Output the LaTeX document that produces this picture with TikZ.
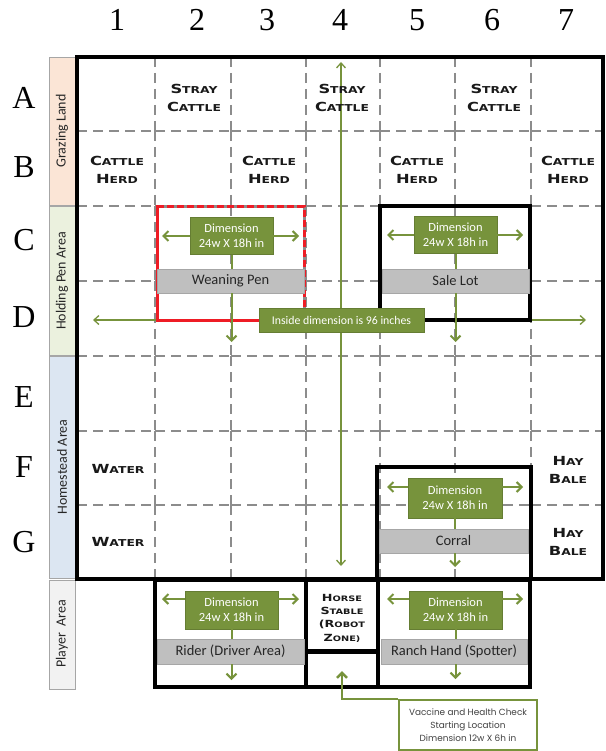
\documentclass[tikz,border=0pt]{standalone}
\usepackage{fontspec}
\usepackage{graphicx}
\setmainfont{Liberation Serif}
\newfontfamily\calib{Carlito}
\newfontfamily\cpfont{DejaVu Sans}
\newfontfamily\vacfont{Poppins}
\usetikzlibrary{arrows.meta}
\definecolor{grn}{HTML}{77933C}
\definecolor{lblgray}{HTML}{BFBFBF}
\definecolor{lbledge}{HTML}{A6A6A6}
\definecolor{gridgray}{HTML}{8C8C8C}
\definecolor{penred}{HTML}{EE1C25}
\definecolor{sidepeach}{HTML}{FBE5D6}
\definecolor{sidegreen}{HTML}{EBF1DE}
\definecolor{sideblue}{HTML}{DCE6F2}
\definecolor{sidegray}{HTML}{F2F2F2}
\definecolor{vactext}{HTML}{404040}
\newcommand\cpw[2]{\scalebox{1.3}[1]{{\fontsize{12.5}{12.5}\selectfont #1}{\fontsize{9.5}{9.5}\selectfont #2}}}
\newcommand\cpws[2]{\scalebox{1.3}[1]{{\fontsize{9.8}{9.8}\selectfont #1}{\fontsize{7.5}{7.5}\selectfont #2}}}
\tikzset{
  gridline/.style={draw=gridgray, line width=2pt, dash pattern=on 10pt off 6pt},
  frame/.style={draw=black, line width=4pt},
  penbox/.style={draw=black, line width=4pt},
  sidebar/.style={draw=lbledge, line width=0.8pt},
  sidetext/.style={rotate=90, font=\calib\fontsize{14}{14}\selectfont, text=black!85, inner sep=0pt},
  rowlab/.style={font=\fontsize{32}{32}\selectfont, inner sep=0pt},
  collab/.style={font=\fontsize{32}{32}\selectfont, inner sep=0pt},
  celltxt/.style={font=\cpfont\bfseries\fontsize{10}{18}\selectfont, align=center, inner sep=0pt, text=black!90},
  horsetxt/.style={font=\cpfont\bfseries\fontsize{8}{13.3}\selectfont, align=center, inner sep=0pt, text=black!90},
  glabel/.style={fill=grn, draw=grn!85!black, line width=0.4pt, text=white, align=center, inner sep=0pt,
     font=\calib\fontsize{12.5}{15}\selectfont},
  graylabel/.style={fill=lblgray, draw=lbledge, line width=0.8pt, text=black!85, inner sep=0pt,
     minimum height=24pt, font=\calib\fontsize{14.5}{14.5}\selectfont},
  gline/.style={draw=grn, line width=2pt},
  garrow/.style={draw=grn, line width=2pt, -{Straight Barb[length=5pt,width=10pt]}},
  bigarrow/.style={draw=grn, line width=1.3pt, {Straight Barb[length=5pt,width=9pt]}-{Straight Barb[length=5pt,width=9pt]}},
  vacbox/.style={draw=grn, line width=2pt, fill=white, align=center, inner sep=0pt, text=vactext,
     font=\vacfont\fontsize{8.9}{13.3}\selectfont}
}
\begin{document}
\begin{tikzpicture}[x=1pt,y=-1pt]
\useasboundingbox[fill=white] (0,0) rectangle (605,751);

% ---- grid (dashed, drawn per cell segment) ----
\foreach \yy in {131,206,281,356,431,505}{
  \foreach \a/\b in {77/155,155/231,231/306,306/380,380/455,455/531,531/603}{
    \draw[gridline] (\a,\yy) -- (\b,\yy);
  }
}
\foreach \xx in {155,231,306,380,455,531}{
  \foreach \a/\b in {57/131,131/206,206/281,281/356,356/431,431/505,505/579}{
    \draw[gridline] (\xx,\a) -- (\xx,\b);
  }
}

% ---- side bars ----
\draw[sidebar, fill=sidepeach] (49,57) rectangle (75,205);
\draw[sidebar, fill=sidegreen] (49,206) rectangle (75,355);
\draw[sidebar, fill=sideblue] (49,356) rectangle (75,578);
\draw[sidebar, fill=sidegray] (49,580) rectangle (75,689);
\node[sidetext] (sgraze) at (62,131) {Grazing Land};
\node[sidetext] (shold) at (62,281) {Holding Pen Area};
\node[sidetext] (shome) at (62,467) {Homestead Area};
\node[sidetext] (splay) at (62,634) {Player\ \ Area};

% ---- row / column labels ----
\foreach \l/\yy in {A/98,B/167,C/240,D/317,E/397,F/467,G/542}{
  \node[rowlab] (row\l) at (24,\yy) {\l};
}
\foreach \n/\xx in {1/117,2/197,3/267,4/340,5/417,6/492,7/566}{
  \node[collab] (col\n) at (\xx,20) {\n};
}

% ---- big dimension arrows ----
\coordinate (vtop) at (341,62);
\coordinate (vbot) at (341,566);
\coordinate (hleft) at (93,320);
\coordinate (hright) at (586,320);
\draw[bigarrow] (vtop) -- (vbot);
\draw[bigarrow] (hleft) -- (hright);

% ---- cell texts ----
\node[celltxt] (a2) at (194,98) {\cpw{S}{TRAY}\\\cpw{C}{ATTLE}};
\node[celltxt] (a4) at (342,98) {\cpw{S}{TRAY}\\\cpw{C}{ATTLE}};
\node[celltxt] (a6) at (494,98) {\cpw{S}{TRAY}\\\cpw{C}{ATTLE}};
\node[celltxt] (b1) at (117,170) {\cpw{C}{ATTLE}\\\cpw{H}{ERD}};
\node[celltxt] (b3) at (269,170) {\cpw{C}{ATTLE}\\\cpw{H}{ERD}};
\node[celltxt] (b5) at (417,170) {\cpw{C}{ATTLE}\\\cpw{H}{ERD}};
\node[celltxt] (b7) at (568,170) {\cpw{C}{ATTLE}\\\cpw{H}{ERD}};
\node[celltxt] (f1) at (118,469) {\cpw{W}{ATER}};
\node[celltxt] (g1) at (118,542) {\cpw{W}{ATER}};
\node[celltxt] (f7) at (568,470) {\cpw{H}{AY}\\\cpw{B}{ALE}};
\node[celltxt] (g7) at (568,542) {\cpw{H}{AY}\\\cpw{B}{ALE}};

% ---- main frame ----
\draw[frame] (77,57) rectangle (603,579);

% ---- weaning pen (red) ----
\draw[draw=gridgray, line width=3pt] (157,207) -- (304,207) -- (304,320);
\draw[draw=penred, line width=3pt, dash pattern=on 7pt off 3pt] (157,207) -- (304,207) -- (304,320);
\draw[draw=penred, line width=3pt] (304,320) -- (157,320) -- (157,205.5);

% ---- sale lot, corral, player boxes ----
\draw[penbox] (380,206) rectangle (530,320);
\draw[penbox] (377,467) rectangle (531,579);
\draw[penbox] (155,580) rectangle (306,687);
\draw[penbox] (306,580) rectangle (378,687);
\draw[penbox] (378,580) rectangle (530,687);
\draw[draw=black, line width=5pt] (306,651) -- (378,651);

% ---- weaning pen labels ----
\node[glabel, minimum width=83pt, minimum height=37pt] (wpdim) at (231.5,236) {Dimension\\24w X 18h in};
\node[graylabel, minimum width=147pt] (wpgray) at (230.5,281) {Weaning Pen};
\coordinate (wpl) at (162,236);
\coordinate (wpr) at (299,236);
\coordinate (wpd) at (231.5,342);
\draw[garrow] (wpdim.west) -- (wpl);
\draw[garrow] (wpdim.east) -- (wpr);
\draw[gline] (wpdim.south) -- (wpdim.south |- wpgray.north);
\draw[garrow] (wpdim.south |- wpgray.south) -- (wpd);

% ---- sale lot labels ----
\node[glabel, minimum width=83pt, minimum height=37pt] (sldim) at (455.5,235) {Dimension\\24w X 18h in};
\node[graylabel, minimum width=147pt] (slgray) at (455.5,281) {Sale Lot};
\coordinate (sll) at (387,235);
\coordinate (slr) at (523,235);
\coordinate (sld) at (455.5,342);
\draw[garrow] (sldim.west) -- (sll);
\draw[garrow] (sldim.east) -- (slr);
\draw[gline] (sldim.south) -- (slgray.north);
\draw[garrow] (slgray.south) -- (sld);

% ---- inside dimension label ----
\node[glabel, minimum width=165pt, minimum height=24pt, font=\calib\fontsize{11.8}{11.8}\selectfont] (inside) at (341.5,320) {Inside dimension is 96 inches};

% ---- corral labels ----
\node[glabel, minimum width=94pt, minimum height=40pt] (crdim) at (455,498) {Dimension\\24w X 18h in};
\node[graylabel, minimum width=149pt] (crgray) at (453.5,541) {Corral};
\coordinate (crl) at (387,487);
\coordinate (crr) at (523,487);
\coordinate (crd) at (455,567);
\draw[garrow] (crdim.west |- crl) -- (crl);
\draw[garrow] (crdim.east |- crr) -- (crr);
\draw[gline] (crdim.south) -- (crdim.south |- crgray.north);
\draw[garrow] (crdim.south |- crgray.south) -- (crd);

% ---- rider labels ----
\node[glabel, minimum width=93pt, minimum height=38pt] (rddim) at (231.5,610) {Dimension\\24w X 18h in};
\node[graylabel, minimum width=147pt, minimum height=25pt] (rdgray) at (230.5,651.5) {Rider (Driver Area)};
\coordinate (rdl) at (162,599);
\coordinate (rdr) at (299,599);
\coordinate (rdd) at (231.5,680);
\draw[garrow] (rddim.west |- rdl) -- (rdl);
\draw[garrow] (rddim.east |- rdr) -- (rdr);
\draw[gline] (rddim.south) -- (rddim.south |- rdgray.north);
\draw[garrow] (rddim.south |- rdgray.south) -- (rdd);

% ---- ranch hand labels ----
\node[glabel, minimum width=93pt, minimum height=38pt] (rhdim) at (455.5,610) {Dimension\\24w X 18h in};
\node[graylabel, minimum width=146pt, minimum height=25pt] (rhgray) at (454,651.5) {Ranch Hand (Spotter)};
\coordinate (rhl) at (387,599);
\coordinate (rhr) at (523,599);
\coordinate (rhd) at (455.5,679);
\draw[garrow] (rhdim.west |- rhl) -- (rhl);
\draw[garrow] (rhdim.east |- rhr) -- (rhr);
\draw[gline] (rhdim.south) -- (rhdim.south |- rhgray.north);
\draw[garrow] (rhdim.south |- rhgray.south) -- (rhd);

% ---- horse stable ----
\node[horsetxt] (horse) at (342,618) {\cpws{H}{ORSE}\\\cpws{S}{TABLE}\\\cpws{(R}{OBOT}\\\cpws{Z}{ONE)}};

% ---- vaccine box ----
\node[vacbox, minimum width=138pt, minimum height=50pt] (vac) at (468,725) {Vaccine and Health Check\\Starting Location\\Dimension 12w X 6h in};
\coordinate (vacend) at (342,671);
\draw[draw=grn, line width=2.5pt, -{Straight Barb[length=5pt,width=10pt]}] (vac.north west) -| (vacend);
\end{tikzpicture}
\end{document}
